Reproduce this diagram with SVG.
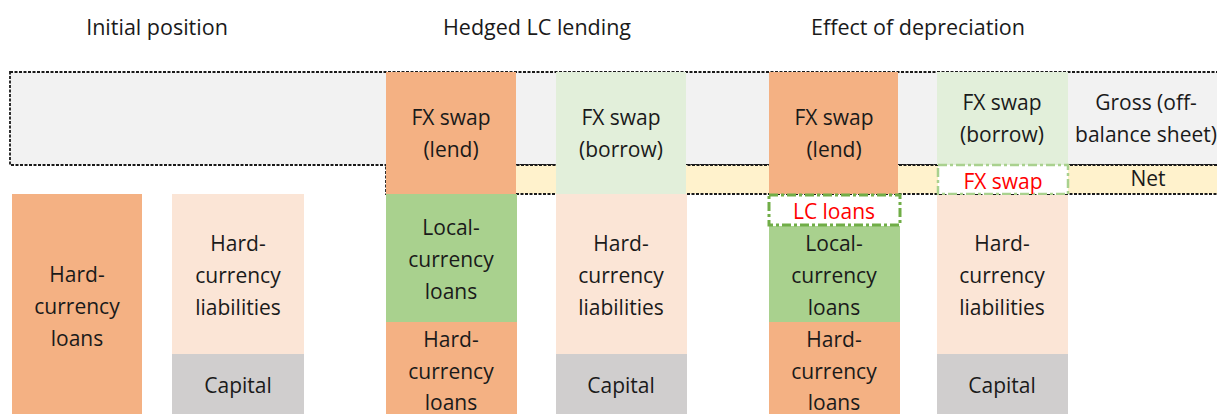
<svg xmlns="http://www.w3.org/2000/svg" width="1217" height="414" viewBox="0 0 1217 414">
<style>
text{font-family:"Open Sans","Noto Sans","Liberation Sans",sans-serif;font-size:21px;fill:#1a1a1a;text-anchor:middle}
.title{font-size:21.5px}
.red{fill:#ff0000}
.band{stroke:#1a1a1a;stroke-width:1.8;stroke-dasharray:3 1.5}
.hc{fill:#f4b183}
.lc{fill:#a9d18e}
.hl{fill:#fbe5d6}
.cap{fill:#d0cece}
.fxb{fill:#e2efda}
</style>
<rect width="1217" height="414" fill="#ffffff"/>
<g id="titles">
<text class="title" x="157" y="35">Initial position</text>
<text class="title" x="537" y="35">Hedged LC lending</text>
<text class="title" x="918" y="35">Effect of depreciation</text>
</g>
<g id="gross-band">
<rect class="band" x="10" y="72" width="1220" height="93" fill="#f2f2f2"/>
<text x="1146" y="110">Gross (off-</text>
<text x="1146" y="142">balance sheet)</text>
</g>
<g id="net-band">
<rect class="band" x="386" y="165" width="844" height="29" fill="#fff2cc"/>
<text x="1148" y="186">Net</text>
</g>
<g id="initial-hc-loans">
<rect class="hc" x="12" y="194" width="130" height="220"/>
<text x="77" y="282">Hard-</text><text x="77" y="314">currency</text><text x="77" y="346">loans</text>
</g>
<g id="initial-hc-liabilities">
<rect class="hl" x="172" y="194" width="132" height="160"/>
<text x="238" y="251">Hard-</text><text x="238" y="283">currency</text><text x="238" y="315">liabilities</text>
</g>
<g id="initial-capital">
<rect class="cap" x="172" y="354" width="132" height="60"/>
<text x="238" y="393">Capital</text>
</g>
<g id="hedged-fx-lend">
<rect class="hc" x="386" y="72" width="130" height="122"/>
<text x="451" y="125">FX swap</text><text x="451" y="157">(lend)</text>
</g>
<g id="hedged-lc-loans">
<rect class="lc" x="386" y="194" width="131" height="128"/>
<text x="451" y="235">Local-</text><text x="451" y="267">currency</text><text x="451" y="299">loans</text>
</g>
<g id="hedged-hc-loans">
<rect class="hc" x="386" y="322" width="131" height="92"/>
<text x="451" y="347">Hard-</text><text x="451" y="379">currency</text><text x="451" y="410">loans</text>
</g>
<g id="hedged-fx-borrow">
<rect class="fxb" x="556" y="72" width="130" height="122"/>
<text x="621" y="125">FX swap</text><text x="621" y="157">(borrow)</text>
</g>
<g id="hedged-hc-liabilities">
<rect class="hl" x="556" y="194" width="131" height="160"/>
<text x="621" y="251">Hard-</text><text x="621" y="283">currency</text><text x="621" y="315">liabilities</text>
</g>
<g id="hedged-capital">
<rect class="cap" x="556" y="354" width="131" height="60"/>
<text x="621" y="393">Capital</text>
</g>
<g id="dep-fx-lend">
<rect class="hc" x="769" y="72" width="129" height="122"/>
<text x="834" y="125">FX swap</text><text x="834" y="157">(lend)</text>
</g>
<g id="dep-lc-loans">
<rect class="lc" x="769" y="226" width="131" height="96"/>
<text x="834" y="251">Local-</text><text x="834" y="283">currency</text><text x="834" y="315">loans</text>
</g>
<g id="dep-lc-loans-loss">
<rect x="769" y="195" width="131" height="30" fill="#ffffff" stroke="#70ad47" stroke-width="3" stroke-dasharray="9 3 3 3"/>
<text class="red" x="834" y="219">LC loans</text>
</g>
<g id="dep-hc-loans">
<rect class="hc" x="769" y="322" width="131" height="92"/>
<text x="834" y="347">Hard-</text><text x="834" y="379">currency</text><text x="834" y="410">loans</text>
</g>
<g id="dep-fx-borrow">
<rect class="fxb" x="937" y="72" width="131" height="93"/>
<text x="1002" y="110">FX swap</text><text x="1002" y="142">(borrow)</text>
</g>
<g id="dep-fx-swap-net">
<rect x="938" y="165" width="130" height="29" fill="#ffffff" stroke="#a9d18e" stroke-width="2.5" stroke-dasharray="9 3 3 3"/>
<text class="red" x="1003" y="189">FX swap</text>
</g>
<g id="dep-hc-liabilities">
<rect class="hl" x="937" y="195" width="131" height="159"/>
<text x="1002" y="251">Hard-</text><text x="1002" y="283">currency</text><text x="1002" y="315">liabilities</text>
</g>
<g id="dep-capital">
<rect class="cap" x="937" y="354" width="131" height="60"/>
<text x="1002" y="393">Capital</text>
</g>
<g id="connectors"></g>
</svg>
